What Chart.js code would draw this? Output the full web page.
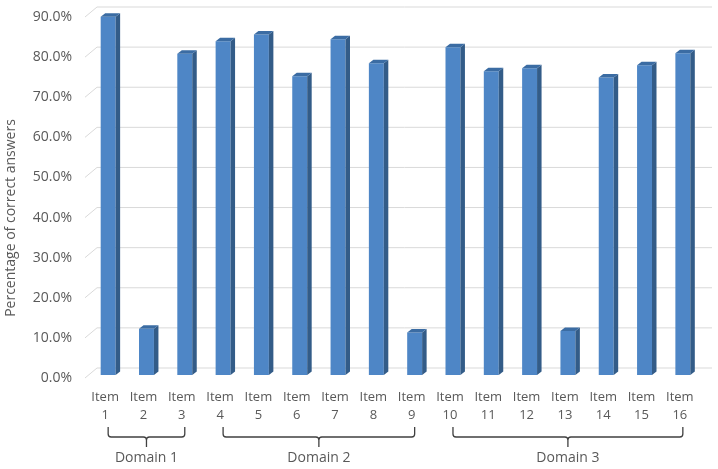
<!DOCTYPE html>
<html>
<head>
<meta charset="utf-8">
<script src="https://cdn.jsdelivr.net/npm/chart.js@4/dist/chart.umd.min.js"></script>
<style>
  html, body { margin: 0; padding: 0; background: #fff; }
  #wrap { width: 718px; height: 469px; }
</style>
</head>
<body>
<div id="wrap"><canvas id="myChart" width="718" height="469"></canvas></div>
<script>
var items = ['1', '2', '3', '4', '5', '6', '7', '8', '9', '10', '11', '12', '13', '14', '15', '16'];
var correct = [89.3, 11.5, 80.1, 83.2, 84.9, 74.5, 83.7, 77.7, 10.6, 81.7, 75.7, 76.5, 11.0, 74.2, 77.2, 80.2];
var domains = ['Domain 1', 'Domain 2', 'Domain 3'];
var domainFirst = [0, 3, 9];
var domainLast = [2, 8, 15];
var yTitle = 'Percentage of correct answers';

var textColor = '#595959';

// fake excel 3d: side + top faces, and slanted back-wall gridlines
var depth = { dx: 4.5, dy: 3.5 };
var wall = { dx: 12, front: 3, back: -7 };

var threeD = {
    id: 'threeD',
    beforeDatasetsDraw: function(chart) {
        var c = chart.ctx, y = chart.scales.y, a = chart.chartArea;
        c.save();
        c.strokeStyle = '#d9d9d9';
        c.lineWidth = 1;
        y.ticks.forEach(function(t) {
            var py = y.getPixelForValue(t.value);
            c.beginPath();
            c.moveTo(a.left - 4, py + wall.front);
            c.lineTo(a.left - 4 + wall.dx, py + wall.back);
            c.lineTo(a.right + 10, py + wall.back);
            c.stroke();
        });
        c.restore();
    },
    afterDatasetsDraw: function(chart) {
        var c = chart.ctx;
        c.save();
        chart.getDatasetMeta(0).data.forEach(function(el) {
            var l = el.x - el.width / 2, r = el.x + el.width / 2;
            c.fillStyle = '#335c88';
            c.beginPath();
            c.moveTo(r, el.y);
            c.lineTo(r + depth.dx, el.y - depth.dy);
            c.lineTo(r + depth.dx, el.base - depth.dy);
            c.lineTo(r, el.base);
            c.closePath();
            c.fill();
            c.fillStyle = '#3b6ca3';
            c.beginPath();
            c.moveTo(l, el.y);
            c.lineTo(l + depth.dx, el.y - depth.dy);
            c.lineTo(r + depth.dx, el.y - depth.dy);
            c.lineTo(r, el.y);
            c.closePath();
            c.fill();
        });
        c.restore();
    },
    afterDraw: function(chart) {
        var c = chart.ctx, x = chart.scales.x;
        c.save();
        // y title
        c.fillStyle = textColor;
        c.font = '14px "Open Sans"';
        c.textAlign = 'center';
        c.textBaseline = 'middle';
        c.translate(11, 218);
        c.rotate(-Math.PI / 2);
        c.fillText(yTitle, 0, 0);
        c.restore();

        // domain brackets
        c.save();
        c.strokeStyle = '#404040';
        c.lineWidth = 1.3;
        var top = 427, line = 437, tip = 447, r = 3;
        domains.forEach(function(name, i) {
            var x1 = x.getPixelForValue(domainFirst[i]);
            var x2 = x.getPixelForValue(domainLast[i]);
            var m = (x1 + x2) / 2;
            c.beginPath();
            c.moveTo(x1, top);
            c.lineTo(x1, line - r);
            c.quadraticCurveTo(x1, line, x1 + r, line);
            c.lineTo(m - r, line);
            c.quadraticCurveTo(m, line, m, line + r);
            c.lineTo(m, tip);
            c.moveTo(m, line + r);
            c.quadraticCurveTo(m, line, m + r, line);
            c.lineTo(x2 - r, line);
            c.quadraticCurveTo(x2, line, x2, line - r);
            c.lineTo(x2, top);
            c.stroke();
            c.fillStyle = textColor;
            c.font = '14px "Open Sans"';
            c.textAlign = 'center';
            c.textBaseline = 'middle';
            c.fillText(name, m, 458);
        });
        c.restore();
    }
};

var ctx = document.getElementById('myChart').getContext('2d');
var myChart = new Chart(ctx, {
    type: 'bar',
    data: {
        labels: items.map(function(n) { return ['Item', n]; }),
        datasets: [{
            label: 'Correct',
            data: correct,
            backgroundColor: '#4e86c6',
            barPercentage: 0.39,
            categoryPercentage: 1
        }]
    },
    options: {
        responsive: false,
        animation: false,
        layout: { padding: { top: 14, right: 16, left: 0, bottom: 0 } },
        plugins: {
            legend: { display: false },
            tooltip: { enabled: false }
        },
        scales: {
            x: {
                grid: { display: false, drawTicks: false },
                border: { display: false },
                ticks: {
                    color: textColor,
                    font: { size: 13, family: 'Open Sans', lineHeight: 1.35 },
                    padding: 14,
                    labelOffset: -3,
                    maxRotation: 0,
                    autoSkip: false
                },
                afterFit: function(s) { s.height = 94; s.paddingLeft = 0; s.paddingRight = 0; }
            },
            y: {
                min: 0,
                max: 90,
                grid: { display: false, drawTicks: false },
                border: { display: false },
                ticks: {
                    stepSize: 10,
                    color: textColor,
                    font: { size: 14, family: 'Open Sans' },
                    padding: 17,
                    labelOffset: 3,
                    callback: function(v) { return v.toFixed(1) + '%'; }
                },
                afterFit: function(s) { s.width = 89; s.paddingTop = 0; s.paddingBottom = 0; }
            }
        }
    },
    plugins: [threeD]
});
</script>
</body>
</html>
